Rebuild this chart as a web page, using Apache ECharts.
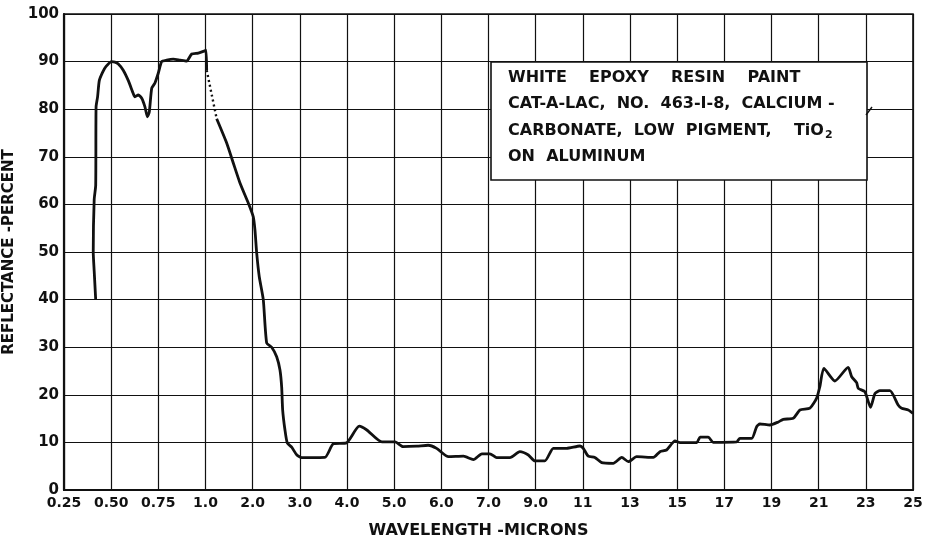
<!DOCTYPE html>
<html>
<head>
<meta charset="utf-8">
<script src="https://cdn.jsdelivr.net/npm/echarts@6/dist/echarts.min.js"></script>
<style>
  html, body { margin: 0; padding: 0; background: #ffffff; }
  #chart { width: 935px; height: 544px; }
</style>
</head>
<body>
<div id="chart"></div>
<script>
// Wavelength scale: equally spaced divisions, each labelled with its wavelength (microns)
const tickValues = [0.25, 0.5, 0.75, 1, 2, 3, 4, 5, 6, 7, 9, 11, 13, 15, 17, 19, 21, 23, 25];
const tickLabels = ['0.25', '0.50', '0.75', '1.0', '2.0', '3.0', '4.0', '5.0', '6.0', '7.0', '9.0', '11', '13', '15', '17', '19', '21', '23', '25'];
const reflectanceTicks = [0, 10, 20, 30, 40, 50, 60, 70, 80, 90, 100];

// Measured reflectance, visible / near-IR part (solid trace)
const wavelengthVis = [0.418, 0.41, 0.405, 0.41, 0.418, 0.42, 0.428, 0.437, 0.455, 0.473,
  0.503, 0.52, 0.538, 0.564, 0.591, 0.617, 0.626, 0.644, 0.662, 0.679,
  0.692, 0.702, 0.715, 0.732, 0.75, 0.768, 0.794, 0.829, 0.865, 0.9,
  0.927, 0.962, 0.992, 1.01, 1.025];
const reflectanceVis = [40, 46, 50, 61, 64, 80.5, 82.6, 86, 87.8, 89,
  90, 89.9, 89.5, 88.2, 86, 83.3, 82.6, 83, 82.3, 80.5,
  78.4, 79.4, 84.4, 85.5, 87.6, 90, 90.3, 90.5, 90.3, 90.1,
  91.6, 91.8, 92.2, 92.4, 88.2];

// Instrument changeover (dotted trace)
const wavelengthGap = [1.025, 1.237];
const reflectanceGap = [88.2, 78];

// Measured reflectance, infrared part (solid trace)
const wavelengthIR = [1.237, 1.449, 1.589, 1.731, 1.907, 2.013, 2.049, 2.085, 2.14, 2.225,
  2.297, 2.403, 2.509, 2.579, 2.615, 2.636, 2.685, 2.734, 2.827, 2.933,
  3.04, 3.53, 3.71, 3.99, 4.26, 4.42, 4.74, 5.02, 5.19, 5.48,
  5.72, 5.90, 6.15, 6.47, 6.68, 6.86, 7.06, 7.35, 7.91, 8.33,
  8.69, 8.97, 9.39, 9.75, 10.31, 10.88, 11.02, 11.23, 11.51, 11.80,
  12.29, 12.65, 12.93, 13.28, 13.99, 14.27, 14.55, 14.91, 15.12, 15.83,
  15.97, 16.32, 16.53, 17.52, 17.66, 18.16, 18.37, 18.51, 18.93, 19.29,
  19.50, 19.92, 20.21, 20.63, 20.91, 21.05, 21.22, 21.69, 22.25, 22.40,
  22.61, 22.68, 22.96, 23.20, 23.39, 23.60, 24.02, 24.37, 24.52, 24.80, 25.0];
const reflectanceIR = [78, 72.9, 68.7, 64.5, 60.3, 57.4, 54.6, 49.8, 44.8, 40,
  30.9, 30, 28, 25.2, 21.6, 16.8, 12.6, 9.9, 9.0, 7.4,
  6.8, 6.85, 9.7, 9.9, 13.4, 12.6, 10.1, 10.1, 9.1, 9.2,
  9.4, 8.75, 7.0, 7.1, 6.4, 7.6, 7.6, 6.8, 6.8, 8.05,
  7.35, 6.1, 6.1, 8.75, 8.75, 9.24, 8.75, 7.1, 6.85, 5.74,
  5.6, 6.85, 5.95, 7.0, 6.85, 8.05, 8.4, 10.3, 9.94, 9.94,
  11.1, 11.1, 10.0, 10.1, 10.85, 10.85, 13.3, 13.87, 13.66, 14.3,
  14.85, 15.06, 16.8, 17.2, 19.26, 21.7, 25.56, 22.9, 25.77, 23.8,
  22.55, 21.36, 20.65, 17.37, 20.3, 20.86, 20.86, 17.86, 17.16, 16.8, 16.1];

const sampleTitle = [
  'WHITE    EPOXY    RESIN    PAINT',
  'CAT-A-LAC,  NO.  463-I-8,  CALCIUM -',
  'CARBONATE,  LOW  PIGMENT,    TiO{sub|2}',
  'ON  ALUMINUM'
];

// Map a wavelength onto the division index of the piecewise-linear axis
function toDivision(wl) {
  const n = tickValues.length;
  if (wl <= tickValues[0]) return 0;
  for (let k = 0; k < n - 1; k++) {
    if (wl <= tickValues[k + 1]) {
      return k + (wl - tickValues[k]) / (tickValues[k + 1] - tickValues[k]);
    }
  }
  return n - 1;
}
function pairs(wls, rs) {
  return wls.map((w, i) => [toDivision(w), rs[i]]);
}

const FONT = '"DejaVu Sans", "Liberation Sans", sans-serif';
const chart = echarts.init(document.getElementById('chart'), null, { renderer: 'canvas' });

const traceStyle = { color: '#111', width: 2.8 };

chart.setOption({
  animation: false,
  backgroundColor: '#ffffff',
  grid: {
    left: 64, right: 22, top: 14, bottom: 54,
    outerBoundsMode: 'none',
    containLabel: false,
    show: true, borderColor: '#111', borderWidth: 1.6
  },
  xAxis: {
    type: 'value',
    min: 0,
    max: tickValues.length - 1,
    interval: 1,
    name: 'WAVELENGTH -MICRONS',
    nameLocation: 'middle',
    nameGap: 33,
    nameTextStyle: {
      fontFamily: FONT, fontWeight: 'bold', fontSize: 16, color: '#111',
      padding: [0, 20, 0, 0]
    },
    axisLine: { show: true, lineStyle: { color: '#111', width: 2.2 } },
    axisTick: { show: false },
    axisLabel: {
      margin: 6,
      fontFamily: FONT, fontWeight: 'bold', fontSize: 14, color: '#111',
      formatter: v => tickLabels[Math.round(v)] || ''
    },
    splitLine: { show: true, lineStyle: { color: '#111', width: 1.2 } }
  },
  yAxis: {
    type: 'value',
    min: 0, max: 100, interval: 10,
    name: 'REFLECTANCE -PERCENT',
    nameLocation: 'middle',
    nameGap: 43,
    nameTextStyle: { fontFamily: FONT, fontWeight: 'bold', fontSize: 15, color: '#111' },
    axisLine: { show: true, lineStyle: { color: '#111', width: 2.2 } },
    axisTick: { show: false },
    axisLabel: {
      margin: 5,
      fontFamily: FONT, fontWeight: 'bold', fontSize: 15, color: '#111',
      formatter: v => reflectanceTicks.includes(v) ? String(v) : ''
    },
    splitLine: { show: true, lineStyle: { color: '#111', width: 1.2 } }
  },
  series: [
    {
      type: 'line', name: 'vis', data: pairs(wavelengthVis, reflectanceVis),
      showSymbol: false, smooth: 0.2, lineStyle: traceStyle, z: 5
    },
    {
      type: 'line', name: 'gap', data: pairs(wavelengthGap, reflectanceGap),
      showSymbol: false, lineStyle: { color: '#111', width: 2.4, type: [2, 3] }, z: 5
    },
    {
      type: 'line', name: 'ir', data: pairs(wavelengthIR, reflectanceIR),
      showSymbol: false, smooth: 0.2, lineStyle: traceStyle, z: 5
    }
  ],
  graphic: [
    {
      type: 'rect', z: 50,
      shape: { x: 491, y: 62, width: 376, height: 118 },
      style: { fill: '#ffffff', stroke: '#111', lineWidth: 1.6 }
    },
    {
      type: 'line', z: 51,
      shape: { x1: 866, y1: 115, x2: 872, y2: 107 },
      style: { stroke: '#111', lineWidth: 1.4 }
    }
  ].concat(sampleTitle.map((t, i) => ({
    type: 'text', z: 52,
    x: 508, y: 78 + i * 26.3,
    style: {
      text: t,
      fontFamily: FONT, fontWeight: 'bold', fontSize: 16, fill: '#111',
      verticalAlign: 'middle', align: 'left',
      rich: {
        sub: { fontFamily: FONT, fontWeight: 'bold', fontSize: 11, fill: '#111', padding: [10, 0, 0, 1] }
      }
    }
  })))
});
</script>
</body>
</html>
